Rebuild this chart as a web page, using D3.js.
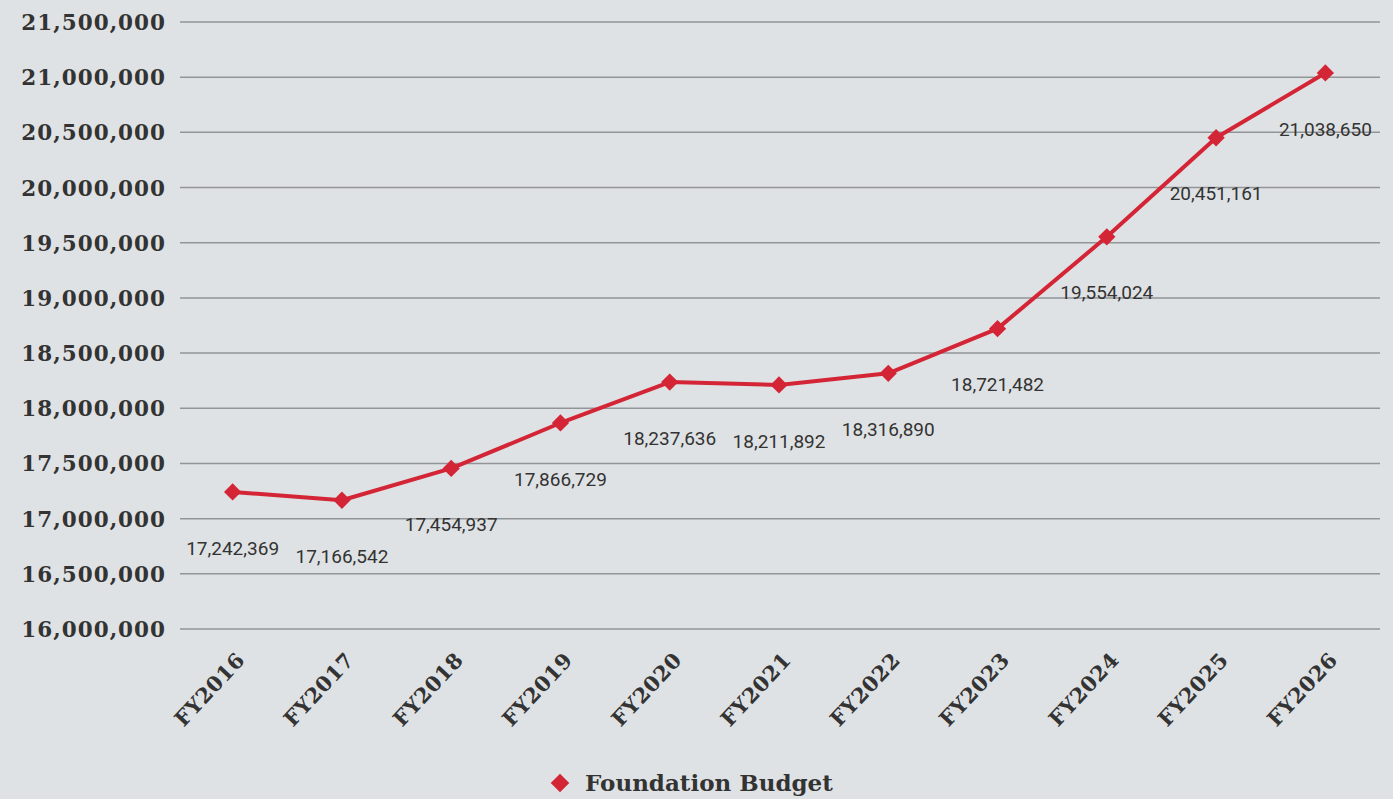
<!DOCTYPE html>
<html><head><meta charset="utf-8">
<script src="https://cdn.jsdelivr.net/npm/d3@7"></script>
<style>
html,body{margin:0;padding:0;background:#dfe2e4;}
svg{display:block;}
</style></head>
<body>
<svg id="chart" width="1393" height="799"></svg>
<script>
const categories = ["FY2016","FY2017","FY2018","FY2019","FY2020","FY2021","FY2022","FY2023","FY2024","FY2025","FY2026"];
const budgetValues = [17242369,17166542,17454937,17866729,18237636,18211892,18316890,18721482,19554024,20451161,21038650];
const yTicks = [16000000,16500000,17000000,17500000,18000000,18500000,19000000,19500000,20000000,20500000,21000000,21500000];
const seriesName = "Foundation Budget";

const svg = d3.select("#chart");
const W = 1393, H = 799;
const margin = {left:178, right:13, top:22, bottom:170};
const red = "#d42536";

svg.append("rect").attr("width",W).attr("height",H).attr("fill","#dfe2e4");

const x = d3.scaleBand().domain(categories).range([margin.left, W-margin.right]);
const y = d3.scaleLinear().domain([16000000,21500000]).range([629, 22]);

const fmt = d3.format(",");

// gridlines
svg.append("g").selectAll("line").data(yTicks).join("line")
  .attr("x1", 180).attr("x2", 1380)
  .attr("y1", d=>y(d)).attr("y2", d=>y(d))
  .attr("stroke","#929598").attr("stroke-width",1.5);

// y labels
const yAxis = d3.axisLeft(y).tickValues(yTicks).tickFormat(fmt).tickSize(0).tickPadding(0);
const gy = svg.append("g").attr("transform","translate(166,0)").call(yAxis);
gy.select(".domain").remove();
gy.selectAll("text")
  .attr("font-family","'DejaVu Serif', serif").attr("font-weight","bold")
  .attr("font-size","21.5px").attr("fill","#333").attr("letter-spacing","1px").attr("dy","0.35em");

// x labels
const xAxis = d3.axisBottom(x).tickSize(0).tickPadding(0);
const gx = svg.append("g").attr("transform","translate(0,640)").call(xAxis);
gx.select(".domain").remove();
gx.selectAll("text")
  .attr("font-family","'DejaVu Serif', serif").attr("font-weight","bold")
  .attr("font-size","21px").attr("fill","#333").attr("letter-spacing","0.5px")
  .attr("text-anchor","end")
  .attr("dy","0.35em")
  .attr("transform","translate(8,16) rotate(-47)");

const cx = d => x(d) + x.bandwidth()/2;

// line
const line = d3.line().x((d,i)=>cx(categories[i])).y(d=>y(d));
svg.append("path").datum(budgetValues).attr("d",line)
  .attr("fill","none").attr("stroke",red).attr("stroke-width",4)
  .attr("stroke-linejoin","round");

// markers
const diamond = d3.symbol().type(d3.symbolDiamond2).size(190);
svg.append("g").selectAll("path").data(budgetValues).join("path")
  .attr("d", diamond)
  .attr("transform",(d,i)=>`translate(${cx(categories[i])},${y(d)})`)
  .attr("fill",red);

// data labels
svg.append("g").selectAll("text").data(budgetValues).join("text")
  .attr("x",(d,i)=>cx(categories[i]))
  .attr("y",d=>y(d)+56)
  .attr("dy","0.35em")
  .attr("text-anchor","middle")
  .attr("font-family","Roboto, sans-serif")
  .attr("font-size","19px")
  .attr("fill","#333")
  .text(d=>fmt(d));

// legend
const lg = svg.append("g").attr("transform","translate(560,783)");
lg.append("path").attr("d", d3.symbol().type(d3.symbolDiamond2).size(220)).attr("fill",red);
lg.append("text").attr("x",25).attr("dy","0.35em")
  .attr("font-family","'DejaVu Serif', serif").attr("font-weight","bold")
  .attr("font-size","23px").attr("fill","#333").text(seriesName);
</script>
</body></html>
